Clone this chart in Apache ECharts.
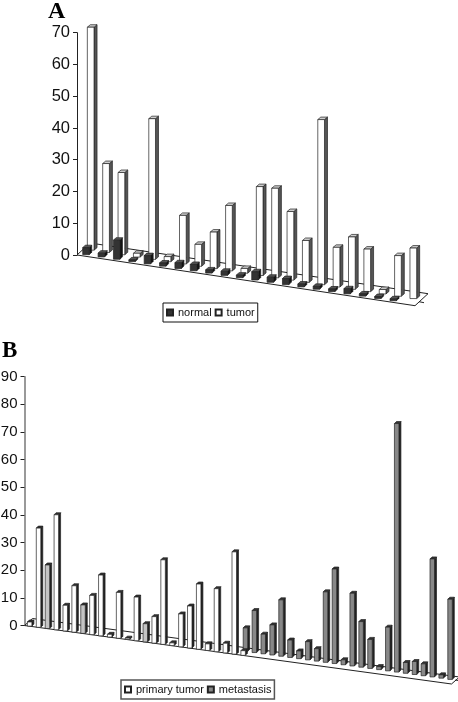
<!DOCTYPE html>
<html>
<head>
<meta charset="utf-8">
<script src="https://cdn.jsdelivr.net/npm/echarts@6/dist/echarts.min.js"></script>
<style>
  html, body { margin: 0; padding: 0; background: #fff; }
  #main { width: 458px; height: 702px; }
</style>
</head>
<body>
<div id="main"></div>
<script>
// panel A
var normalA = [2.2, 1.2, 6, 0.5, 2.6, 1, 1.8, 2, 1, 1.3, 0.8, 2.6, 1.6, 1.9, 0.9, 0.9, 0.8, 1.6, 0.7, 0.6, 0.6, null];
var tumorA = [70.2, 28, 25.9, 1.2, 44.3, 1.6, 15.3, 6.9, 11.5, 20.6, 1.5, 28, 28.2, 21.6, 13.2, 52, 12.5, 16.5, 13.4, 1.4, 12.8, 15.9];
// panel B, 48 samples
var primaryB = [1.5, 35.9, 23, 41.6, 9.3, 16.8, 10.3, 14.2, 22, 1, 16.6, 0.5, 15.8, 6.6, 9.6, 30.6, 1, 11.9, 15.2, 23.6, 2.4, 22.8, 3.5, 37, 1.7,
  null, null, null, null, null, null, null, null, null, null, null, null, null, null, null, null, null, null, null, null, null, null, null];
var metastasisB = [null, null, null, null, null, null, null, null, null, null, null, null, null, null, null, null, null, null, null, null, null, null, null, null,
  8.5, 15.2, 7.1, 10.9, 20.4, 6.3, 2.8, 6.6, 4.5, 25.5, 34.2, 1.8, 26.3, 16.5, 10.5, 1.1, 15.8, 89.9, 3.9, 4.7, 4.3, 42.7, 1.2, 29];
var categoriesA = tumorA.map(function (v, i) { return i + 1; });
var categoriesB = primaryB.map(function (v, i) { return i + 1; });
// these few look greyer in the scan
var greyedPrimary = [2, 6, 13];

var chart = echarts.init(document.getElementById('main'));

// bars stand on a slanted floor, so every point gets pushed down along the slope
function barItem(cfg) {
  return function (params, api) {
    var v = api.value(1);
    if (isNaN(v)) return;
    var cs = params.coordSys;
    var top = api.coord([api.value(0), v]);
    var base = api.coord([api.value(0), 0]);
    var cx = top[0] + cfg.off;
    var shift = cfg.slope * (base[0] - cs.x) + cfg.dy;
    var l = cx - cfg.w / 2, r = cx + cfg.w / 2;
    var y0 = base[1] + shift, y1 = top[1] + shift;
    var sx = cfg.sx, sy = cfg.sy;
    var line = { stroke: '#222', lineWidth: 0.7 };
    var front = cfg.greyed && cfg.greyed.indexOf(params.dataIndex) >= 0 ? '#c4c4c4' : cfg.front;
    return {
      type: 'group',
      children: [
        { type: 'polygon', shape: { points: [[r, y0], [r + sx, y0 - sy], [r + sx, y1 - sy], [r, y1]] }, style: Object.assign({ fill: cfg.side }, line) },
        { type: 'polygon', shape: { points: [[l, y1], [r, y1], [r + sx, y1 - sy], [l + sx, y1 - sy]] }, style: Object.assign({ fill: cfg.cap }, line) },
        { type: 'rect', shape: { x: l, y: y1, width: cfg.w, height: y0 - y1 }, style: Object.assign({ fill: front }, line) }
      ]
    };
  };
}

function floorItem(cfg) {
  return function (params, api) {
    var cs = params.coordSys;
    var x0 = cs.x, y0 = cs.y + cs.height, x1 = cs.x + cs.width;
    var y1 = y0 + cfg.slope * cs.width;
    var s = { stroke: '#222', lineWidth: 1, fill: null };
    return {
      type: 'group',
      children: [
        { type: 'polyline', shape: { points: [[x0, y0], [x0 + cfg.dx, y0 - cfg.dy], [x1 + cfg.dx, y1 - cfg.dy], [x1, y1], [x0, y0]] }, style: s },
        { type: 'line', shape: { x1: x1 + 4, y1: y1 - 4, x2: x1 + 9, y2: y1 - 3 }, style: s }
      ]
    };
  };
}

function barSeries(name, values, idx, cfg) {
  return {
    name: name,
    type: 'custom',
    xAxisIndex: idx,
    yAxisIndex: idx,
    clip: false,
    renderItem: barItem(cfg),
    itemStyle: { color: cfg.front, borderColor: '#222', borderWidth: 1 },
    data: values.map(function (v, i) { return [i, v]; }),
    encode: { x: 0, y: 1 }
  };
}

var slopeA = 0.15, slopeB = 0.137;
var valueAxis = function (idx, max, fontSize, margin, lineColor, lineWidth) {
  return {
    type: 'value', gridIndex: idx, min: 0, max: max, interval: 10,
    splitLine: { show: false },
    axisLine: { show: true, onZero: false, lineStyle: { color: lineColor, width: lineWidth } },
    axisTick: { show: true, length: 4, lineStyle: { color: '#222', width: 1 } },
    axisLabel: { color: '#111', fontFamily: 'Liberation Sans', fontSize: fontSize, margin: margin }
  };
};
var legendBase = {
  orient: 'horizontal', itemWidth: 6, itemHeight: 6, itemGap: 3, icon: 'rect', padding: [4, 3],
  textStyle: { fontFamily: 'Liberation Sans', fontSize: 11, color: '#111' }
};

chart.setOption({
  animation: false,
  backgroundColor: '#fff',
  title: [
    { text: 'A', left: 48, top: 0, padding: 0, textStyle: { fontFamily: 'Liberation Serif', fontWeight: 'bold', fontSize: 24, color: '#000' } },
    { text: 'B', left: 2, top: 340, padding: 0, textStyle: { fontFamily: 'Liberation Serif', fontWeight: 'bold', fontSize: 23, color: '#000' } }
  ],
  legend: [
    Object.assign({}, legendBase, { left: 163, top: 303, data: ['normal', 'tumor'], borderColor: '#111', borderWidth: 1 }),
    Object.assign({}, legendBase, { left: 121, top: 680, data: ['primary tumor', 'metastasis'], borderColor: '#555', borderWidth: 1.5 })
  ],
  grid: [
    { left: 77, top: 32.7, width: 338, height: 222.3, outerBoundsMode: 'none' },
    { left: 24.5, top: 376.7, width: 427, height: 248.8, outerBoundsMode: 'none' }
  ],
  xAxis: [
    { type: 'category', gridIndex: 0, data: categoriesA, show: false },
    { type: 'category', gridIndex: 1, data: categoriesB, show: false }
  ],
  yAxis: [
    valueAxis(0, 70, 16.5, 7, '#222', 1),
    valueAxis(1, 90, 15, 7, '#777', 1.5)
  ],
  series: [
    { type: 'custom', xAxisIndex: 0, yAxisIndex: 0, clip: false, silent: true, renderItem: floorItem({ slope: slopeA, dx: 13, dy: 12 }), data: [[0, 0]] },
    { type: 'custom', xAxisIndex: 1, yAxisIndex: 1, clip: false, silent: true, renderItem: floorItem({ slope: slopeB, dx: 8, dy: 7 }), data: [[0, 0]] },
    barSeries('tumor', tumorA, 0, { slope: slopeA, off: 6, dy: -6, w: 6.7, sx: 3, sy: 2.5, front: '#fff', side: '#555', cap: '#ccc' }),
    barSeries('normal', normalA, 0, { slope: slopeA, off: 1.3, dy: -1.5, w: 6.5, sx: 2.5, sy: 2.5, front: '#333', side: '#111', cap: '#555' }),
    barSeries('metastasis', metastasisB, 1, { slope: slopeB, off: 3, dy: -4, w: 4.5, sx: 2, sy: 2, front: '#888', side: '#222', cap: '#333' }),
    barSeries('primary tumor', primaryB, 1, { slope: slopeB, off: 0.7, dy: 0, w: 4.5, sx: 2, sy: 2, front: '#fff', side: '#222', cap: '#333', greyed: greyedPrimary })
  ]
});
</script>
</body>
</html>
